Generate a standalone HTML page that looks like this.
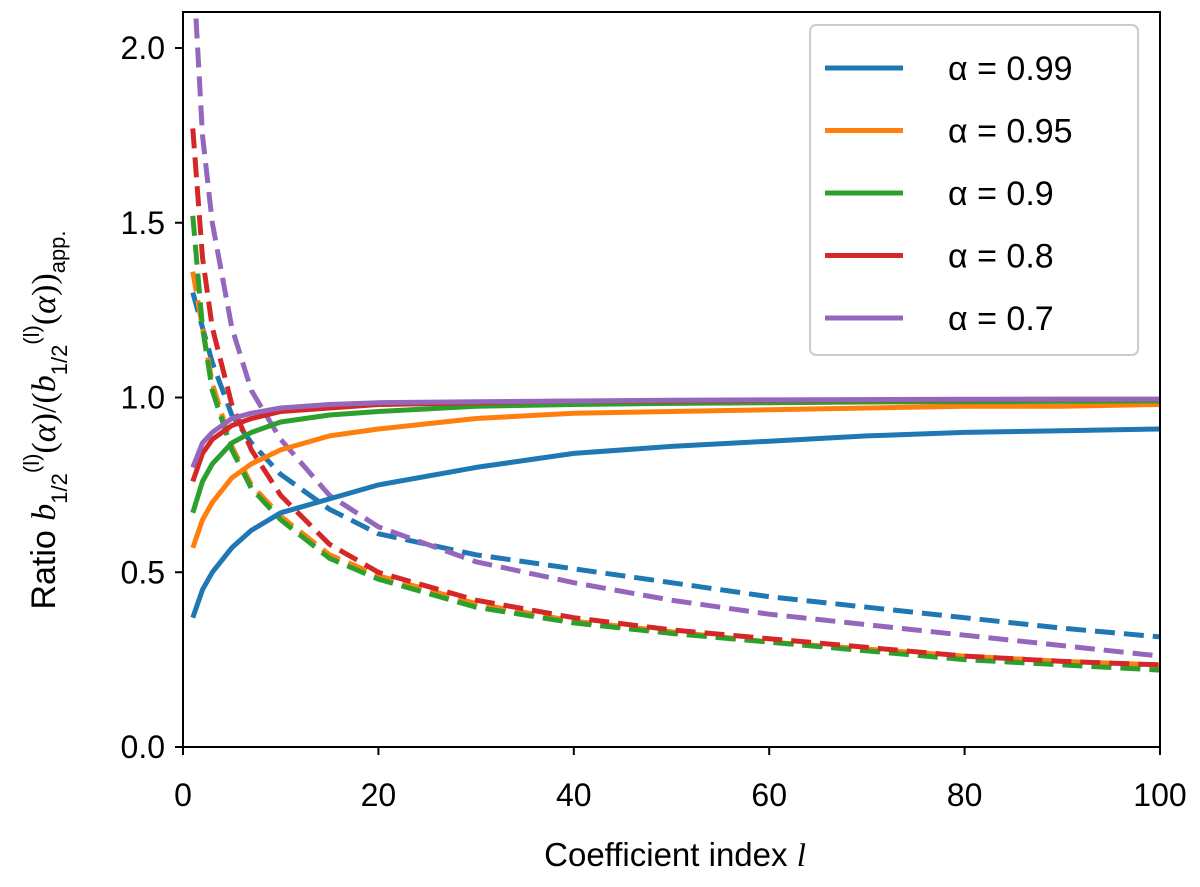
<!DOCTYPE html>
<html><head><meta charset="utf-8"><style>
body{margin:0;background:#fff;}
svg text{font-family:"Liberation Sans",sans-serif;}
</style></head><body>
<svg id="chart" width="1200" height="882" xmlns="http://www.w3.org/2000/svg">
<defs><clipPath id="clip"><rect x="183" y="12" width="977" height="735"/></clipPath></defs>
<g id="series" clip-path="url(#clip)"></g>
<rect x="183" y="12" width="977" height="735" fill="none" stroke="#000" stroke-width="2"/>
<g id="axes"></g>
<text x="675" y="866" text-anchor="middle" font-size="33">Coefficient index <tspan font-family="Liberation Serif" font-style="italic">l</tspan></text>
<text transform="translate(55,420) rotate(-90)" text-anchor="middle" font-size="34">Ratio <tspan font-family="Liberation Serif" font-style="italic">b</tspan><tspan font-size="22" dy="12">1/2</tspan><tspan font-size="22" dy="-28">(l)</tspan><tspan dy="16" font-family="Liberation Serif">(<tspan font-style="italic">α</tspan>)/(<tspan font-style="italic">b</tspan></tspan><tspan font-size="22" dy="12">1/2</tspan><tspan font-size="22" dy="-28">(l)</tspan><tspan dy="16" font-family="Liberation Serif">(<tspan font-style="italic">α</tspan>))</tspan><tspan font-size="22" dy="10">app.</tspan></text>
<g id="legend">
<rect x="810" y="25" width="328" height="330" rx="6" fill="#fff" fill-opacity="0.9" stroke="#ccc" stroke-width="2"/>
</g>
</svg>
<script>
const ls=[1,2,3,5,7,10,15,20,30,40,50,60,70,80,90,100];
const labels=["α = 0.99","α = 0.95","α = 0.9","α = 0.8","α = 0.7"];
const colors=["#1f77b4","#ff7f0e","#2ca02c","#d62728","#9467bd"];
const solid099=[0.37,0.45,0.50,0.57,0.62,0.67,0.71,0.75,0.80,0.84,0.86,0.875,0.89,0.90,0.905,0.91];
const solid095=[0.57,0.65,0.70,0.77,0.81,0.85,0.89,0.91,0.94,0.955,0.96,0.965,0.97,0.975,0.975,0.98];
const solid090=[0.67,0.76,0.81,0.87,0.90,0.93,0.95,0.96,0.975,0.98,0.983,0.985,0.987,0.988,0.989,0.99];
const solid080=[0.76,0.84,0.88,0.92,0.94,0.96,0.97,0.98,0.985,0.99,0.99,0.992,0.993,0.994,0.995,0.995];
const solid070=[0.80,0.87,0.90,0.94,0.955,0.97,0.98,0.985,0.988,0.99,0.992,0.993,0.994,0.995,0.995,0.995];
const dash099=[1.30,1.20,1.10,0.95,0.87,0.78,0.68,0.61,0.55,0.51,0.47,0.43,0.40,0.37,0.34,0.315];
const dash095=[1.36,1.20,1.04,0.86,0.75,0.66,0.55,0.49,0.41,0.36,0.33,0.30,0.28,0.26,0.245,0.235];
const dash090=[1.52,1.20,1.02,0.85,0.74,0.65,0.54,0.48,0.40,0.355,0.325,0.30,0.275,0.25,0.235,0.22];
const dash080=[1.77,1.40,1.20,0.98,0.85,0.72,0.58,0.50,0.42,0.37,0.335,0.31,0.285,0.26,0.245,0.235];
const dash070=[2.25,1.75,1.50,1.20,1.02,0.88,0.72,0.63,0.53,0.47,0.42,0.38,0.35,0.32,0.29,0.26];
const xTicks=[0,20,40,60,80,100];
const yTicks=[0.0,0.5,1.0,1.5,2.0];
const X=v=>183+v*9.77, Y=v=>747-v*349.5;
const NS="http://www.w3.org/2000/svg";
const solids=[solid099,solid095,solid090,solid080,solid070];
const dashes=[dash099,dash095,dash090,dash080,dash070];
const g=document.getElementById('series');
function path(arr,c,dash,name){
 const p=document.createElementNS(NS,'path');
 p.setAttribute('d',arr.map((v,i)=>(i?'L':'M')+X(ls[i]).toFixed(1)+','+Y(v).toFixed(1)).join(''));
 p.setAttribute('fill','none');p.setAttribute('stroke',c);p.setAttribute('stroke-width','5');
 p.setAttribute('stroke-linejoin','round');
 if(dash)p.setAttribute('stroke-dasharray','20,9');
 
 
 g.appendChild(p);
}
for(let i=0;i<5;i++){path(dashes[i],colors[i],true,'dashed-line-'+i);}
for(let i=0;i<5;i++){path(solids[i],colors[i],false,'solid-line-'+i);}
const ax=document.getElementById('axes');
xTicks.forEach(t=>{
 const l=document.createElementNS(NS,'line');l.setAttribute('x1',X(t));l.setAttribute('x2',X(t));l.setAttribute('y1',747);l.setAttribute('y2',755);l.setAttribute('stroke','#000');l.setAttribute('stroke-width','2');
 
 
 ax.appendChild(l);
 const tx=document.createElementNS(NS,'text');tx.setAttribute('x',X(t));tx.setAttribute('y',806);tx.setAttribute('text-anchor','middle');tx.setAttribute('font-size','32');tx.setAttribute('font-family','Liberation Serif');tx.textContent=t;
 
 
 ax.appendChild(tx);
});
yTicks.forEach(t=>{
 const l=document.createElementNS(NS,'line');l.setAttribute('x1',175);l.setAttribute('x2',183);l.setAttribute('y1',Y(t));l.setAttribute('y2',Y(t));l.setAttribute('stroke','#000');l.setAttribute('stroke-width','2');
 
 
 ax.appendChild(l);
 const tx=document.createElementNS(NS,'text');tx.setAttribute('x',165);tx.setAttribute('y',Y(t)+11);tx.setAttribute('text-anchor','end');tx.setAttribute('font-size','32');tx.setAttribute('font-family','Liberation Serif');tx.textContent=t.toFixed(1);
 
 
 ax.appendChild(tx);
});
const lg=document.getElementById('legend');
labels.forEach((lab,i)=>{
 const y=68+i*62.5;
 const l=document.createElementNS(NS,'line');l.setAttribute('x1',825);l.setAttribute('x2',903);l.setAttribute('y1',y);l.setAttribute('y2',y);l.setAttribute('stroke',colors[i]);l.setAttribute('stroke-width','5');
 
 
 lg.appendChild(l);
 const tx=document.createElementNS(NS,'text');tx.setAttribute('x',948);tx.setAttribute('y',y+12);tx.setAttribute('font-size','34');tx.textContent=lab;
 
 
 lg.appendChild(tx);
});
</script>
</body></html>
